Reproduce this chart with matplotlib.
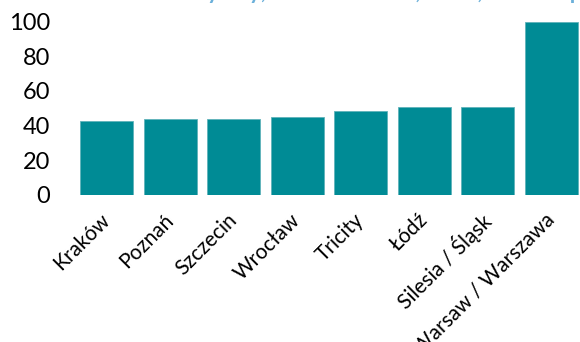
import numpy as np
import matplotlib.pyplot as plt

plt.rcParams['font.family'] = ['Lato', 'DejaVu Sans']

# data
cities = ["Kraków", "Poznań", "Szczecin", "Wrocław", "Tricity", "Łódź",
          "Silesia / Śląsk", "Warsaw / Warszawa"]
values = [42.6, 43.8, 43.8, 44.7, 48.4, 50.5, 50.5, 100]
yticks = [0, 20, 40, 60, 80, 100]
title = "Office rent index by city, Warsaw = 100, 2019, EUR / sq m"

bar_color = "#008B95"

W, H = 580, 342
fig = plt.figure(figsize=(W / 100, H / 100), dpi=100)

# axes placed in pixel terms (bars run past the right edge a bit)
left, right = 75, 583
bottom, top = 194.7, 21.7
ax = fig.add_axes([left / W, (H - bottom) / H, (right - left) / W, (bottom - top) / H])

x = np.arange(len(cities))
ax.bar(x, values, width=0.84, color=bar_color, edgecolor="#5FB3BA", linewidth=0.6)

ax.set_xlim(-0.5, len(cities) - 0.5)
ax.set_ylim(0, 100)
ax.set_yticks(yticks)
ax.set_yticklabels([str(v) for v in yticks], fontsize=17)
ax.tick_params(axis="y", length=0, pad=18)
ax.tick_params(axis="x", length=0, pad=16)
ax.set_xticks(x)
ax.set_xticklabels(cities, rotation=45, ha="right", va="center",
                   rotation_mode="anchor", fontsize=15)
for s in ax.spines.values():
    s.set_visible(False)

# title, mostly cut off at the top in the original
fig.text(20 / W, 1 + 1 / H, title, color="#6BB0DA", fontsize=16,
         fontweight="bold", ha="left", va="baseline")

fig.savefig("out.png", dpi=100)
